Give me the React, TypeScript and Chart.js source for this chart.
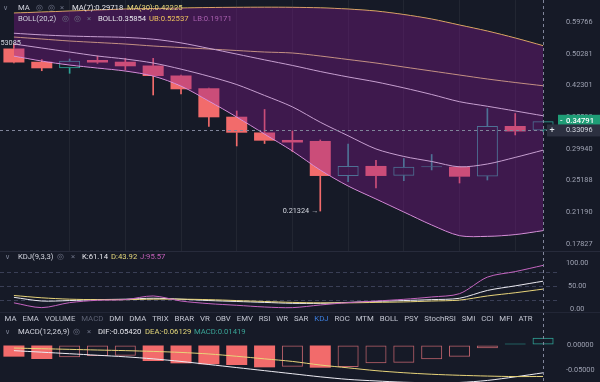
import React, { useEffect, useRef } from 'react';
import { Chart, registerables } from 'chart.js';

Chart.register(...registerables);

// ---------------- data ----------------
const periods = ['P1', 'P2', 'P3', 'P4', 'P5', 'P6', 'P7', 'P8', 'P9', 'P10', 'P11', 'P12', 'P13', 'P14', 'P15', 'P16', 'P17', 'P18', 'P19', 'P20'];

const candleOpen = [0.5173, 0.4814, 0.4644, 0.4859, 0.4814, 0.4715, 0.4465, 0.4165, 0.3567, 0.3273, 0.3142, 0.3125, 0.2582, 0.2727, 0.2586, 0.2707, 0.2716, 0.2575, 0.3391, 0.3307];
const candleHigh = [0.53085, 0.4870, 0.4885, 0.4966, 0.4904, 0.4904, 0.4477, 0.4172, 0.3680, 0.3710, 0.3300, 0.3142, 0.3074, 0.2810, 0.2840, 0.2903, 0.2722, 0.3730, 0.3630, 0.3485];
const candleLow = [0.4780, 0.4583, 0.4519, 0.4770, 0.4601, 0.4015, 0.4037, 0.3382, 0.3041, 0.3082, 0.2951, 0.21324, 0.2503, 0.2419, 0.2517, 0.2668, 0.2485, 0.2526, 0.3229, 0.3291];
const candleClose = [0.4793, 0.4644, 0.4840, 0.4793, 0.4695, 0.4453, 0.4142, 0.3555, 0.3269, 0.3130, 0.3099, 0.2582, 0.2727, 0.2582, 0.2716, 0.2722, 0.2572, 0.3391, 0.3291, 0.34791];

const ma7 = [0.5301, 0.5187, 0.5075, 0.4966, 0.4885, 0.4780, 0.4623, 0.4446, 0.4250, 0.4005, 0.3763, 0.3461, 0.3215, 0.2992, 0.2872, 0.2794, 0.2714, 0.2756, 0.2857, 0.29718];
const ma30 = [0.5507, 0.5448, 0.5389, 0.5345, 0.5301, 0.5244, 0.5201, 0.5159, 0.5117, 0.5075, 0.5048, 0.4966, 0.4872, 0.4780, 0.4677, 0.4576, 0.4477, 0.4381, 0.4298, 0.42225];
const bollMid = [0.5622, 0.5572, 0.5537, 0.5516, 0.5496, 0.5443, 0.5334, 0.5177, 0.5018, 0.4863, 0.4717, 0.4563, 0.4430, 0.4312, 0.4174, 0.4026, 0.3871, 0.3776, 0.3680, 0.35854];
const bollUp = [0.6277, 0.6311, 0.6346, 0.6381, 0.6415, 0.6433, 0.6450, 0.6468, 0.6475, 0.6479, 0.6475, 0.6458, 0.6415, 0.6346, 0.6226, 0.6075, 0.5880, 0.5690, 0.5478, 0.52537];
const bollLow = [0.4966, 0.4832, 0.4728, 0.4651, 0.4576, 0.4453, 0.4217, 0.3886, 0.3561, 0.3246, 0.2959, 0.2668, 0.2445, 0.2278, 0.2122, 0.1977, 0.1865, 0.1858, 0.1876, 0.19171];

const priceTicks = [0.59766, 0.50281, 0.42301, 0.35588, 0.29940, 0.25188, 0.21190, 0.17827];
const priceMin = 0.17155;
const priceMax = 0.67379;
const lastPrice = 0.34791;
const crossPrice = 0.33096;
const lowMark = 0.21324;
const highMark = 0.53085;

const kdjK = [26, 18, 19, 21, 22, 24, 22, 19, 17, 15, 13, 13, 15, 17, 19, 21, 24, 41, 51, 61.14];
const kdjD = [30, 25, 22, 21, 21, 22, 22, 21, 19, 17, 15, 14, 14, 15, 16, 18, 20, 29, 36, 43.92];
const kdjJ = [14, 3.6, 14.5, 19.6, 21, 29, 18, 12.3, 8.7, 5, 3.6, 9.4, 14.5, 18, 21.7, 26.8, 34, 70, 82, 95.57];
const kdjTicks = [0, 20, 50, 80, 100];
const kdjLevels = [20, 50, 80];
const kdjLabelTicks = [0, 50, 100];

const macdHist = [-0.0227, -0.0273, -0.0240, -0.0214, -0.0208, -0.0312, -0.0357, -0.0375, -0.0390, -0.0435, -0.0422, -0.0442, -0.0429, -0.0357, -0.0344, -0.0279, -0.0227, -0.0065, 0.0030, 0.01419];
const macdDif = [-0.0110, -0.0140, -0.0170, -0.0200, -0.0230, -0.0270, -0.0320, -0.0380, -0.0440, -0.0500, -0.0560, -0.0620, -0.0670, -0.0700, -0.0725, -0.0735, -0.0730, -0.0690, -0.0620, -0.05420];
const macdDea = [-0.0060, -0.0072, -0.0085, -0.0098, -0.0110, -0.0125, -0.0145, -0.0175, -0.0220, -0.0270, -0.0320, -0.0390, -0.0445, -0.0500, -0.0540, -0.0570, -0.0590, -0.0605, -0.0615, -0.06129];
const macdTicks = [0, -0.05];

const indicatorTabs = ['MA', 'EMA', 'VOLUME', 'MACD', 'DMI', 'DMA', 'TRIX', 'BRAR', 'VR', 'OBV', 'EMV', 'RSI', 'WR', 'SAR', 'KDJ', 'ROC', 'MTM', 'BOLL', 'PSY', 'StochRSI', 'SMI', 'CCI', 'MFI', 'ATR'];
const mutedTab = 'MACD';
const activeTab = 'KDJ';

// ---------------- style ----------------
const BG = '#161a27';
const RED = '#f26b6b';
const RED_DIM = '#b9606a';
const TEAL = '#2fa396';
const FILL = 'rgba(134, 26, 148, 0.36)';
const WHITE_L = '#ecebf2';
const YELLOW_L = '#e8d47a';
const UB_C = '#efc25e';
const LB_C = '#e6a6e6';
const PINK_L = '#c565c0';
const AXIS_C = '#9ea2b2';
const CROSS_C = '#80859a';
const FONT = 'Roboto, sans-serif';
const AXIS_W = 43;
const LAST = candleClose.length - 1;
const TRANSPARENT = 'rgba(0,0,0,0)';
const LEG = 7.7;

const isUp = candleClose.map((c, i) => c >= candleOpen[i]);

const xAxis = (withGrid: boolean) => ({
  type: 'category',
  offset: true,
  display: true,
  ticks: { display: false },
  border: { display: false },
  grid: withGrid
    ? {
        display: true,
        offset: false,
        drawTicks: false,
        color: (c: any) => (c.index % 2 === 0 && c.index > 0 ? 'rgba(255,255,255,0.055)' : TRANSPARENT),
      }
    : { display: false, drawTicks: false },
});

const axisTickFont = { family: FONT, size: 7.3, lineHeight: 0.01 };

const crosshairPlugin = {
  id: 'vcross',
  afterDatasetsDraw(chart: any) {
    const { ctx, scales } = chart;
    const x = Math.round(scales.x.getPixelForValue(LAST)) + 0.5;
    ctx.save();
    ctx.strokeStyle = CROSS_C;
    ctx.lineWidth = 1;
    ctx.setLineDash([3, 3]);
    ctx.beginPath();
    ctx.moveTo(x, 0);
    ctx.lineTo(x, chart.height);
    ctx.stroke();
    ctx.restore();
  },
};

const mainOverlayPlugin = {
  id: 'mainOverlay',
  afterDatasetsDraw(chart: any) {
    const { ctx, chartArea, scales } = chart;
    const xs = scales.x;
    const ys = scales.y;
    ctx.save();
    const yc = Math.round(ys.getPixelForValue(crossPrice)) + 0.5;
    ctx.strokeStyle = CROSS_C;
    ctx.lineWidth = 1;
    ctx.setLineDash([3, 3]);
    ctx.beginPath();
    ctx.moveTo(chartArea.left, yc);
    ctx.lineTo(chartArea.right, yc);
    ctx.stroke();
    ctx.setLineDash([]);
    ctx.font = `7.3px ${FONT}`;
    ctx.fillStyle = '#d3d6df';
    ctx.textBaseline = 'middle';
    ctx.textAlign = 'right';
    const lowIdx = candleLow.indexOf(lowMark);
    ctx.fillText(`${lowMark.toFixed(5)} →`, xs.getPixelForValue(lowIdx) - 2, ys.getPixelForValue(lowMark));
    const highIdx = candleHigh.indexOf(highMark);
    ctx.fillText(highMark.toFixed(5), xs.getPixelForValue(highIdx) + 7, ys.getPixelForValue(highMark) - 1);
    ctx.restore();
  },
  afterDraw(chart: any) {
    const { ctx, chartArea, scales } = chart;
    const ys = scales.y;
    ctx.save();
    ctx.textBaseline = 'middle';
    const yl = ys.getPixelForValue(lastPrice);
    ctx.fillStyle = '#1f9d76';
    ctx.fillRect(chartArea.right + 1, yl - 6.5, AXIS_W, 13);
    ctx.fillStyle = '#ffffff';
    ctx.font = `500 7.6px ${FONT}`;
    ctx.textAlign = 'left';
    ctx.fillText('-', chartArea.right + 3, yl);
    ctx.fillText(lastPrice.toFixed(5), chartArea.right + 9, yl);
    const yc = ys.getPixelForValue(crossPrice);
    ctx.fillStyle = '#2c3040';
    ctx.fillRect(chartArea.right - 10, yc - 6, AXIS_W + 11, 12);
    ctx.fillStyle = '#e6e8ee';
    ctx.font = `9px ${FONT}`;
    ctx.textAlign = 'center';
    ctx.fillText('+', chartArea.right - 5, yc);
    ctx.font = `7.3px ${FONT}`;
    ctx.fillStyle = '#d6d9e2';
    ctx.textAlign = 'left';
    ctx.fillText(crossPrice.toFixed(5), chartArea.right + 9, yc);
    ctx.restore();
  },
};

function mainConfig(): any {
  const lineDs = (label: string, data: number[], color: string) => ({
    type: 'line',
    label,
    data,
    borderColor: color,
    borderWidth: 1,
    pointRadius: 0,
    tension: 0.3,
    fill: false,
    order: 1,
  });
  return {
    type: 'bar',
    data: {
      labels: periods,
      datasets: [
        {
          type: 'line',
          label: 'bandTop',
          data: bollUp,
          borderColor: TRANSPARENT,
          borderWidth: 0,
          pointRadius: 0,
          tension: 0.3,
          fill: '+1',
          backgroundColor: FILL,
          order: 0,
        },
        {
          type: 'line',
          label: 'bandBottom',
          data: bollLow,
          borderColor: TRANSPARENT,
          borderWidth: 0,
          pointRadius: 0,
          tension: 0.3,
          fill: false,
          order: 0,
        },
        lineDs('UB', bollUp, UB_C),
        lineDs('LB', bollLow, LB_C),
        lineDs('BOLL', bollMid, WHITE_L),
        lineDs('MA30', ma30, YELLOW_L),
        lineDs('MA7', ma7, WHITE_L),
        {
          type: 'bar',
          label: 'body',
          data: candleOpen.map((o, i) => [o, candleClose[i]]),
          backgroundColor: isUp.map((u) => (u ? TRANSPARENT : RED)),
          borderColor: isUp.map((u) => (u ? TEAL : RED)),
          borderWidth: isUp.map((u) => (u ? 1 : 0)),
          borderSkipped: false,
          grouped: false,
          categoryPercentage: 1,
          barPercentage: 0.755,
          order: 2,
        },
        {
          type: 'bar',
          label: 'upperWick',
          data: candleOpen.map((o, i) => [Math.max(o, candleClose[i]), candleHigh[i]]),
          backgroundColor: isUp.map((u) => (u ? TEAL : RED)),
          borderWidth: 0,
          grouped: false,
          categoryPercentage: 1,
          barPercentage: 1,
          maxBarThickness: 1,
          order: 3,
        },
        {
          type: 'bar',
          label: 'lowerWick',
          data: candleOpen.map((o, i) => [candleLow[i], Math.min(o, candleClose[i])]),
          backgroundColor: isUp.map((u) => (u ? TEAL : RED)),
          borderWidth: 0,
          grouped: false,
          categoryPercentage: 1,
          barPercentage: 1,
          maxBarThickness: 1,
          order: 3,
        },
      ],
    },
    options: {
      responsive: false,
      devicePixelRatio: 1,
      animation: false,
      events: [],
      layout: { padding: 0 },
      plugins: { legend: { display: false }, tooltip: { enabled: false } },
      scales: {
        x: xAxis(true),
        y: {
          type: 'logarithmic',
          position: 'right',
          min: priceMin,
          max: priceMax,
          afterBuildTicks: (s: any) => {
            s.ticks = priceTicks.map((v) => ({ value: v }));
          },
          afterFit: (s: any) => {
            s.width = AXIS_W;
          },
          border: { display: false },
          grid: { drawOnChartArea: false, drawTicks: true, tickLength: 9, tickColor: TRANSPARENT },
          ticks: {
            padding: 0,
            crossAlign: 'center',
            autoSkip: false,
            color: AXIS_C,
            font: axisTickFont,
            callback: (v: any) => Number(v).toFixed(5),
          },
        },
      },
    },
    plugins: [mainOverlayPlugin, crosshairPlugin],
  };
}

function kdjConfig(): any {
  const l = (label: string, data: number[], color: string) => ({
    label,
    data,
    borderColor: color,
    borderWidth: 1,
    pointRadius: 0,
    tension: 0.3,
    fill: false,
  });
  return {
    type: 'line',
    data: {
      labels: periods,
      datasets: [l('J', kdjJ, PINK_L), l('D', kdjD, YELLOW_L), l('K', kdjK, WHITE_L)],
    },
    options: {
      responsive: false,
      devicePixelRatio: 1,
      animation: false,
      events: [],
      layout: { padding: 0 },
      plugins: { legend: { display: false }, tooltip: { enabled: false } },
      scales: {
        x: xAxis(false),
        y: {
          type: 'linear',
          position: 'right',
          min: -8,
          max: 124.6,
          afterBuildTicks: (s: any) => {
            s.ticks = kdjTicks.map((v) => ({ value: v }));
          },
          afterFit: (s: any) => {
            s.width = AXIS_W;
          },
          border: { display: false, dash: [4, 3] },
          grid: {
            drawOnChartArea: true,
            drawTicks: true,
            tickLength: 9,
            tickColor: TRANSPARENT,
            color: (c: any) => (c.tick && kdjLevels.includes(c.tick.value) ? '#3a3f56' : TRANSPARENT),
          },
          ticks: {
            padding: 0,
            crossAlign: 'center',
            autoSkip: false,
            color: AXIS_C,
            font: axisTickFont,
            callback: (v: any) => (kdjLabelTicks.includes(Number(v)) ? Number(v).toFixed(2) : ''),
          },
        },
      },
    },
    plugins: [crosshairPlugin],
  };
}

function macdConfig(): any {
  const rising = macdHist.map((v, i) => i > 0 && v > macdHist[i - 1]);
  const baseCol = macdHist.map((v) => (v >= 0 ? TEAL : RED));
  return {
    type: 'bar',
    data: {
      labels: periods,
      datasets: [
        {
          type: 'line',
          label: 'DEA',
          data: macdDea,
          borderColor: YELLOW_L,
          borderWidth: 1,
          pointRadius: 0,
          tension: 0.3,
          order: 0,
        },
        {
          type: 'line',
          label: 'DIF',
          data: macdDif,
          borderColor: WHITE_L,
          borderWidth: 1,
          pointRadius: 0,
          tension: 0.3,
          order: 0,
        },
        {
          type: 'bar',
          label: 'MACD',
          data: macdHist,
          backgroundColor: rising.map((r, i) => (r ? TRANSPARENT : baseCol[i])),
          borderColor: rising.map((r, i) => (macdHist[i] >= 0 ? TEAL : r ? RED_DIM : RED)),
          borderWidth: rising.map((r) => (r ? 1 : 0)),
          borderSkipped: false,
          categoryPercentage: 1,
          barPercentage: 0.755,
          order: 1,
        },
      ],
    },
    options: {
      responsive: false,
      devicePixelRatio: 1,
      animation: false,
      events: [],
      layout: { padding: { top: 25, left: 0, right: 0, bottom: 0 } },
      plugins: { legend: { display: false }, tooltip: { enabled: false } },
      scales: {
        x: xAxis(false),
        y: {
          type: 'linear',
          position: 'right',
          min: -0.072,
          max: 0.01556,
          afterBuildTicks: (s: any) => {
            s.ticks = macdTicks.map((v) => ({ value: v }));
          },
          afterFit: (s: any) => {
            s.width = AXIS_W;
          },
          border: { display: false },
          grid: { drawOnChartArea: false, drawTicks: true, tickLength: 9, tickColor: TRANSPARENT },
          ticks: {
            padding: 0,
            crossAlign: 'center',
            autoSkip: false,
            color: AXIS_C,
            font: axisTickFont,
            callback: (v: any) => Number(v).toFixed(5),
          },
        },
      },
    },
    plugins: [crosshairPlugin],
  };
}

// ---------------- overlay text helpers ----------------
type TxtProps = { x: number; y: number; c?: string; s?: number; children: React.ReactNode };
const Txt = ({ x, y, c = '#d2d4de', s = LEG, children }: TxtProps) => (
  <span
    style={{
      position: 'absolute',
      left: x,
      top: y - 6,
      lineHeight: '12px',
      fontSize: s,
      color: c,
      whiteSpace: 'nowrap',
      fontFamily: FONT,
      zIndex: 3,
    }}
  >
    {children}
  </span>
);

const ICON_C = '#6c7184';

export default function App() {
  const mainRef = useRef<HTMLCanvasElement>(null);
  const kdjRef = useRef<HTMLCanvasElement>(null);
  const macdRef = useRef<HTMLCanvasElement>(null);

  useEffect(() => {
    const charts: Chart[] = [];
    if (mainRef.current) charts.push(new Chart(mainRef.current, mainConfig()));
    if (kdjRef.current) charts.push(new Chart(kdjRef.current, kdjConfig()));
    if (macdRef.current) charts.push(new Chart(macdRef.current, macdConfig()));
    return () => charts.forEach((c) => c.destroy());
  }, []);

  const canvasStyle = (top: number, h: number): React.CSSProperties => ({
    position: 'absolute',
    left: 0,
    top,
    width: 600,
    height: h,
    zIndex: 1,
  });

  return (
    <div
      style={{
        position: 'fixed',
        left: 0,
        top: 0,
        width: 600,
        height: 382,
        background: BG,
        overflow: 'hidden',
        fontFamily: FONT,
      }}
    >
      <canvas ref={mainRef} width={600} height={251} style={canvasStyle(0, 251)} />
      <div style={{ position: 'absolute', left: 0, top: 251, width: 600, height: 1, background: '#272b3b', zIndex: 2 }} />
      <canvas ref={kdjRef} width={600} height={61} style={canvasStyle(252, 61)} />
      <div style={{ position: 'absolute', left: 0, top: 312, width: 600, height: 1, background: '#222636', zIndex: 2 }} />
      <canvas ref={macdRef} width={600} height={70} style={canvasStyle(312, 70)} />

      {/* main legends */}
      <Txt x={3} y={7.5} c="#7c8194" s={7}>∨</Txt>
      <Txt x={18} y={7.5}>MA</Txt>
      <Txt x={36} y={7.5} c={ICON_C} s={7.5}>◎</Txt>
      <Txt x={48} y={7.5} c={ICON_C} s={7.5}>◎</Txt>
      <Txt x={60} y={7.5} c={ICON_C}>×</Txt>
      <Txt x={72} y={7.5} c="#e6e6ec">{`MA(7):${ma7[LAST].toFixed(5)}`}</Txt>
      <Txt x={127} y={7.5} c="#e9d97e">{`MA(30):${ma30[LAST].toFixed(5)}`}</Txt>

      <Txt x={18} y={19.3}>BOLL(20,2)</Txt>
      <Txt x={62} y={19.3} c={ICON_C} s={7.5}>◎</Txt>
      <Txt x={74} y={19.3} c={ICON_C} s={7.5}>◎</Txt>
      <Txt x={87} y={19.3} c={ICON_C}>×</Txt>
      <Txt x={98} y={19.3} c="#e6e6ec">{`BOLL:${bollMid[LAST].toFixed(5)}`}</Txt>
      <Txt x={149} y={19.3} c="#eec25d">{`UB:${bollUp[LAST].toFixed(5)}`}</Txt>
      <Txt x={193} y={19.3} c="#a85fae">{`LB:${bollLow[LAST].toFixed(5)}`}</Txt>

      {/* KDJ legend */}
      <Txt x={5} y={256.5} c="#7c8194" s={7}>∨</Txt>
      <Txt x={18} y={256.5}>KDJ(9,3,3)</Txt>
      <Txt x={57} y={256.5} c={ICON_C} s={7.5}>◎</Txt>
      <Txt x={71} y={256.5} c={ICON_C}>×</Txt>
      <Txt x={82} y={256.5} c="#e6e6ec">{`K:${kdjK[LAST].toFixed(2)}`}</Txt>
      <Txt x={111} y={256.5} c="#e3d77a">{`D:${kdjD[LAST].toFixed(2)}`}</Txt>
      <Txt x={140} y={256.5} c="#c25fb8">{`J:${kdjJ[LAST].toFixed(2)}`}</Txt>

      {/* indicator tabs */}
      <div
        style={{
          position: 'absolute',
          left: 4.6,
          top: 313,
          height: 12,
          display: 'flex',
          gap: 5.9,
          alignItems: 'center',
          fontSize: 7.8,
          lineHeight: '12px',
          fontFamily: FONT,
          whiteSpace: 'nowrap',
          zIndex: 3,
        }}
      >
        {indicatorTabs.map((t) => (
          <span key={t} style={{ color: t === activeTab ? '#3d7fe0' : t === mutedTab ? '#5c6173' : '#c3c6d2' }}>
            {t}
          </span>
        ))}
      </div>

      {/* MACD legend */}
      <Txt x={5} y={331.5} c="#7c8194" s={7}>∨</Txt>
      <Txt x={18} y={331.5}>MACD(12,26,9)</Txt>
      <Txt x={73} y={331.5} c={ICON_C} s={7.5}>◎</Txt>
      <Txt x={87} y={331.5} c={ICON_C}>×</Txt>
      <Txt x={98} y={331.5} c="#e6e6ec">{`DIF:${macdDif[LAST].toFixed(5)}`}</Txt>
      <Txt x={145} y={331.5} c="#e3d77a">{`DEA:${macdDea[LAST].toFixed(5)}`}</Txt>
      <Txt x={194} y={331.5} c="#3aa597">{`MACD:${macdHist[LAST].toFixed(5)}`}</Txt>
    </div>
  );
}
